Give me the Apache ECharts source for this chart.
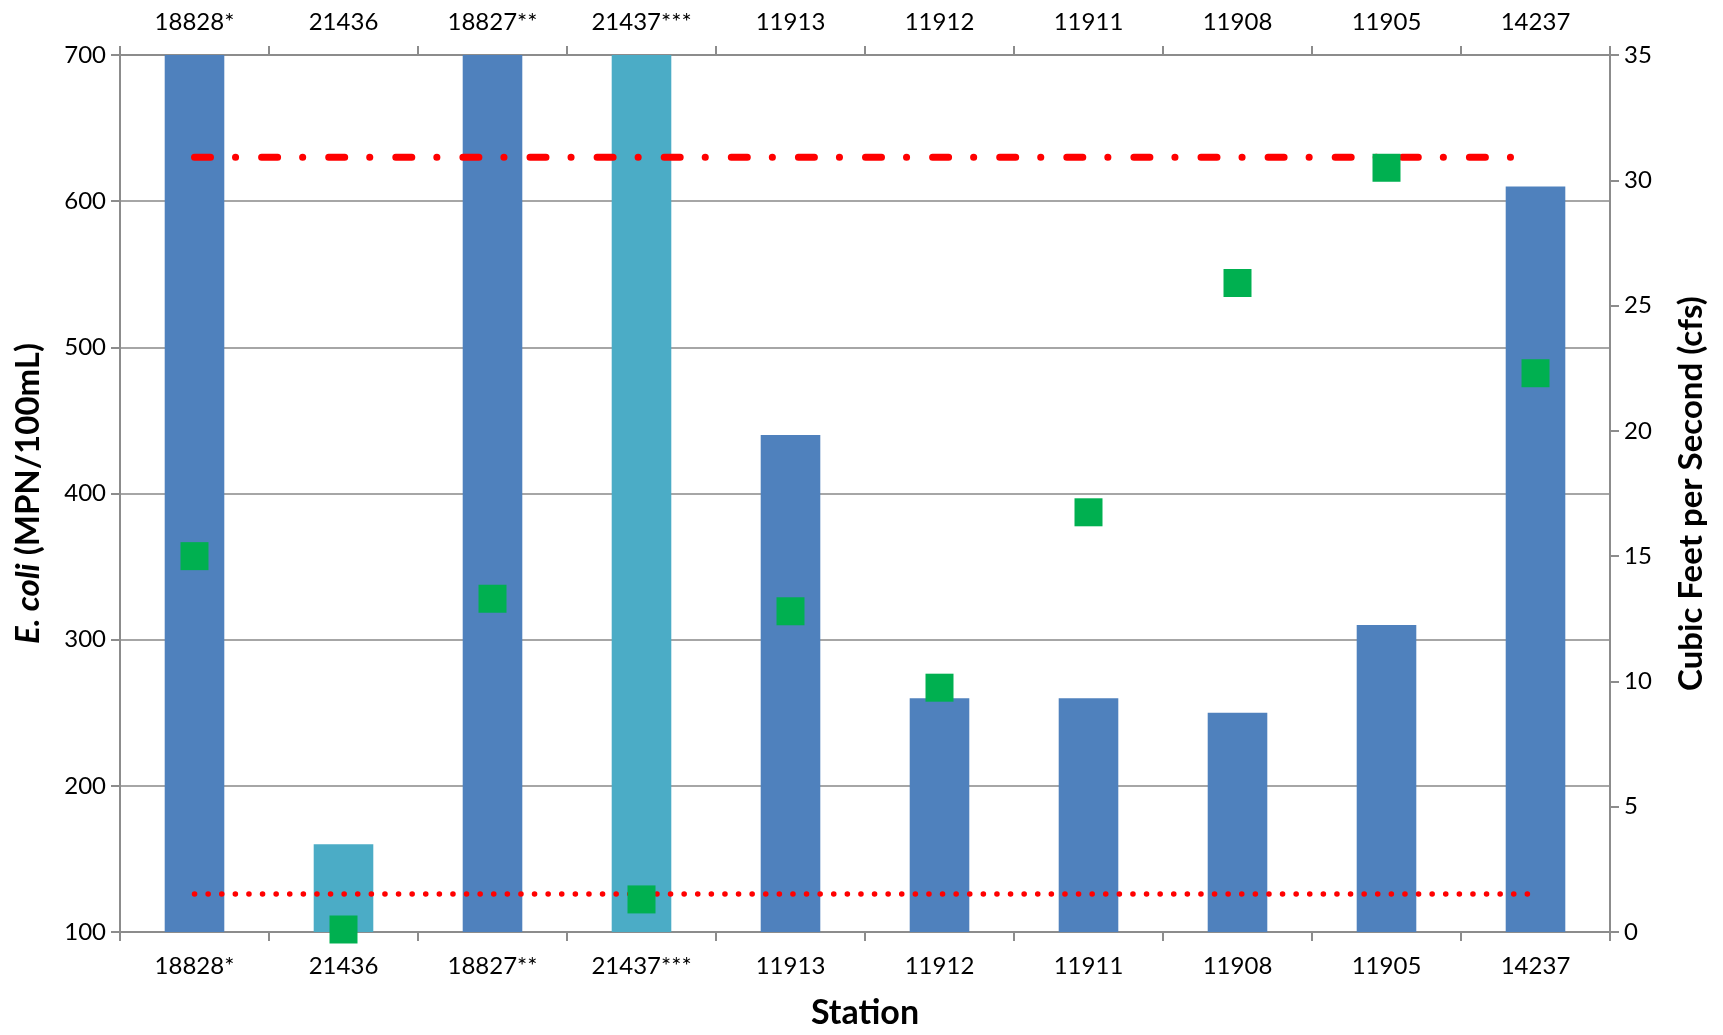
<!DOCTYPE html>
<html>
<head>
<meta charset="utf-8">
<script src="https://cdn.jsdelivr.net/npm/echarts@6/dist/echarts.min.js"></script>
<style>html,body{margin:0;padding:0;background:#fff;}#c{width:1723px;height:1035px;}</style>
</head>
<body>
<div id="c"></div>
<script>
const stations = ['18828*', '21436', '18827**', '21437***', '11913', '11912', '11911', '11908', '11905', '14237'];
const ecoli = [700, 160, 700, 700, 440, 260, 260, 250, 310, 610];
const barColors = ['#4F81BD', '#4BACC6', '#4F81BD', '#4BACC6', '#4F81BD', '#4F81BD', '#4F81BD', '#4F81BD', '#4F81BD', '#4F81BD'];
const flowCfs = [15.0, 0.1, 13.3, 1.3, 12.8, 9.75, 16.75, 25.9, 30.5, 22.3];
const upperStandard = 630;
const lowerStandard = 126;

const FONT = 'Lato, "Open Sans", sans-serif';
const axisGray = '#8c8c8c';
const chart = echarts.init(document.getElementById('c'));
const catAxisBase = {
  type: 'category',
  data: stations,
  boundaryGap: true,
  axisLine: { show: true, lineStyle: { color: axisGray, width: 2 } },
  axisTick: { show: true, alignWithLabel: false, length: 9, lineStyle: { color: axisGray, width: 2 } },
  axisLabel: { color: '#000', fontSize: 24, fontFamily: FONT, margin: 22, interval: 0 },
  splitLine: { show: false }
};
chart.setOption({
  animation: false,
  backgroundColor: '#fff',
  grid: { left: 120, right: 113, top: 55, bottom: 91, containLabel: false },
  xAxis: [
    Object.assign({}, catAxisBase, {
      position: 'bottom',
      name: 'Station', nameLocation: 'middle', nameGap: 64,
      nameTextStyle: { color: '#000', fontSize: 34, fontWeight: 'bold', fontFamily: FONT }
    }),
    Object.assign({}, catAxisBase, {
      position: 'top',
      axisLabel: { color: '#000', fontSize: 24, fontFamily: FONT, margin: 21, interval: 0 }
    })
  ],
  yAxis: [
    {
      type: 'value', min: 100, max: 700, interval: 100, position: 'left',
      name: '{i|E. coli} (MPN/100mL)', nameLocation: 'middle', nameRotate: 90, nameGap: 75,
      nameTextStyle: { color: '#000', fontSize: 33, fontWeight: 'bold', fontFamily: FONT,
        rich: { i: { fontStyle: 'italic', fontWeight: 'bold', fontSize: 33, fontFamily: FONT, color: '#000' } } },
      axisLine: { show: true, lineStyle: { color: axisGray, width: 2 } },
      axisTick: { show: true, length: 9, lineStyle: { color: axisGray, width: 2 } },
      axisLabel: { color: '#000', fontSize: 24, fontFamily: FONT, margin: 14 },
      splitLine: { show: true, lineStyle: { color: '#a6a6a6', width: 2 } }
    },
    {
      type: 'value', min: 0, max: 35, interval: 5, position: 'right',
      name: 'Cubic Feet per Second (cfs)', nameLocation: 'middle', nameRotate: 90, nameGap: 65,
      nameTextStyle: { color: '#000', fontSize: 33, fontWeight: 'bold', fontFamily: FONT },
      axisLine: { show: true, lineStyle: { color: axisGray, width: 2 } },
      axisTick: { show: true, length: 9, lineStyle: { color: axisGray, width: 2 } },
      axisLabel: { color: '#000', fontSize: 24, fontFamily: FONT, margin: 14 },
      splitLine: { show: false }
    }
  ],
  series: [
    {
      type: 'bar', xAxisIndex: 0, yAxisIndex: 0, barWidth: '40%', z: 1,
      data: ecoli.map((v, i) => ({ value: v, itemStyle: { color: barColors[i], opacity: 1 } }))
    },
    {
      type: 'line', xAxisIndex: 0, yAxisIndex: 0, z: 3, showSymbol: false, symbol: 'none',
      data: stations.map(() => upperStandard),
      lineStyle: { color: '#FF0000', width: 7, type: [16, 25, 0.1, 26], cap: 'round', opacity: 1 }
    },
    {
      type: 'line', xAxisIndex: 0, yAxisIndex: 0, z: 3, showSymbol: false, symbol: 'none',
      data: stations.map(() => lowerStandard),
      lineStyle: { color: '#FF0000', width: 5.5, type: [0.1, 13.5], cap: 'round', opacity: 1 }
    },
    {
      type: 'scatter', xAxisIndex: 0, yAxisIndex: 1, z: 5, clip: false,
      symbol: 'rect', symbolSize: 28,
      itemStyle: { color: '#00B050', opacity: 1 },
      data: flowCfs
    }
  ]
});
</script>
</body>
</html>
